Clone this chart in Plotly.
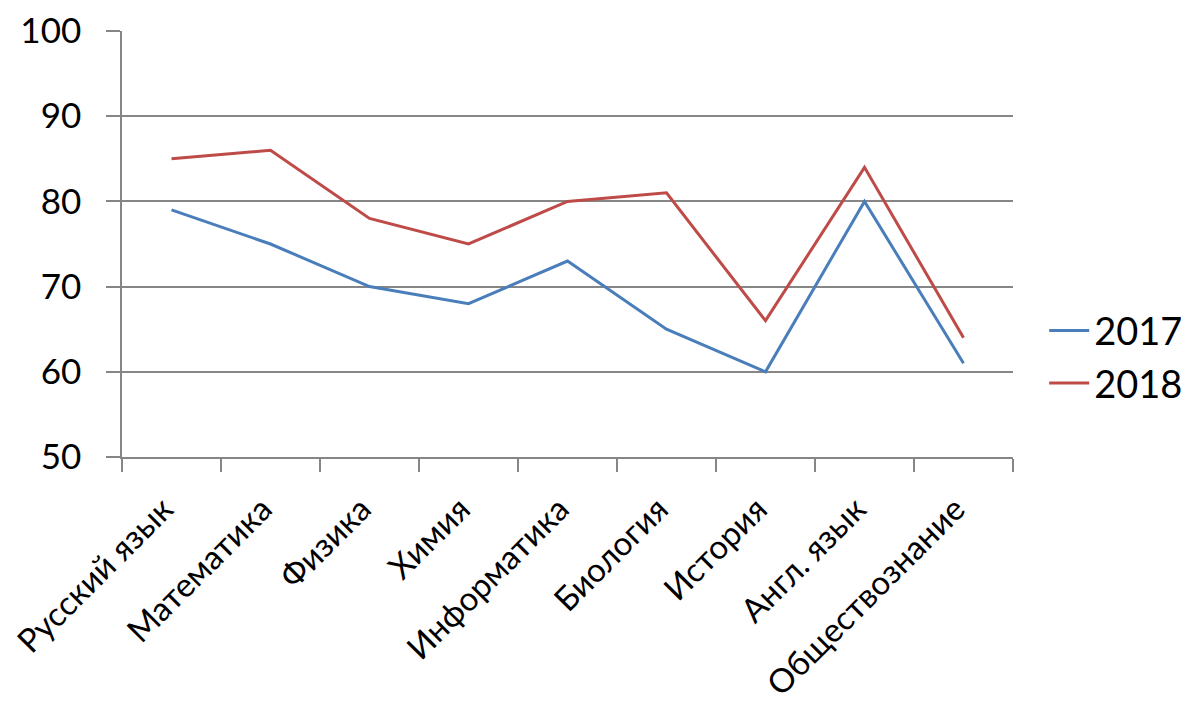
import plotly.graph_objects as go

categories = ["Русский язык", "Математика", "Физика", "Химия", "Информатика",
              "Биология", "История", "Англ. язык", "Обществознание"]
values_2017 = [79, 75, 70, 68, 73, 65, 60, 80, 61]
values_2018 = [85, 86, 78, 75, 80, 81, 66, 84, 64]
y_ticks = [50, 60, 70, 80, 90, 100]

FONT = "Lato"
fig = go.Figure()
fig.add_trace(go.Scatter(x=categories, y=values_2017, mode="lines", name="2017",
                         line=dict(color="#4A7EBB", width=3)))
fig.add_trace(go.Scatter(x=categories, y=values_2018, mode="lines", name="2018",
                         line=dict(color="#BE4B48", width=3)))

fig.update_layout(
    width=1189, height=708,
    margin=dict(l=114, r=184, t=23, b=259, pad=0, autoexpand=False),
    paper_bgcolor="white", plot_bgcolor="white",
    font=dict(family=FONT, color="#000000"),
    showlegend=True,
    legend=dict(x=1.035, y=0.235, xanchor="left", yanchor="middle",
                font=dict(family=FONT, size=38, color="#000000"),
                itemwidth=40, tracegroupgap=0,
                bgcolor="rgba(0,0,0,0)"),
    xaxis=dict(type="category", tickson="boundaries", ticks="outside", ticklen=13,
               tickcolor="#868686", tickwidth=1.5,
               showline=True, linecolor="#868686", linewidth=1.5,
               showgrid=False, tickangle=-45,
               ticklabelshift=-8, ticklabelstandoff=18,
               tickfont=dict(family=FONT, size=33, color="#000000"),
               range=[-0.5, len(categories) - 0.5]),
    yaxis=dict(range=[50, 100], tickvals=y_ticks, ticks="outside", ticklen=14,
               tickcolor="#868686", tickwidth=1.5,
               showline=True, linecolor="#868686", linewidth=1.5,
               showgrid=True, gridcolor="#868686", gridwidth=1.5,
               zeroline=False, ticklabelstandoff=18,
               tickfont=dict(family=FONT, size=35, color="#000000")),
)
fig.write_html("out.html")
